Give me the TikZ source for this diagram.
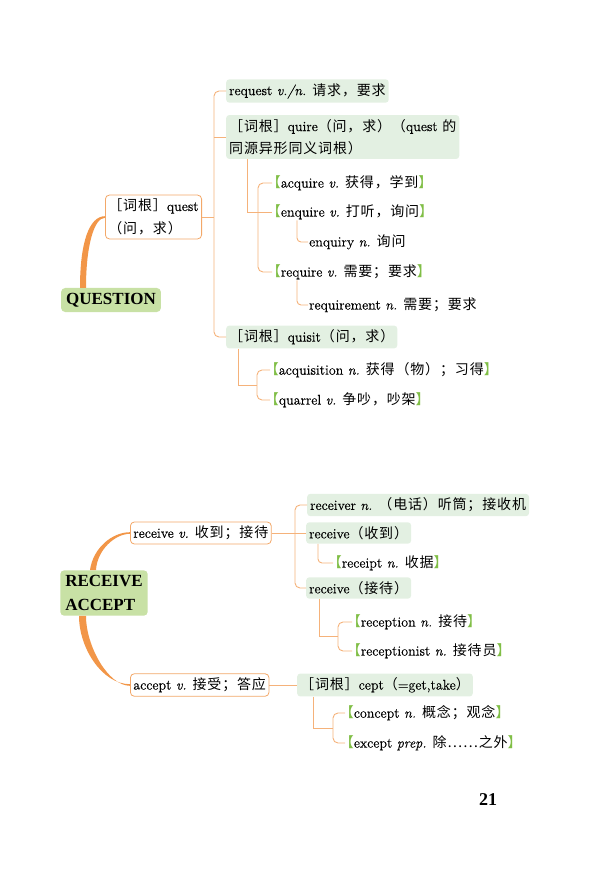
\documentclass[tikz,border=0pt]{standalone}
\usepackage{fontspec}
\setmainfont{Latin Modern Roman}[FakeBold=0.3]
\newfontfamily\zhfont[LetterSpace=6]{Noto Sans CJK SC}
\newfontfamily\headfont{Liberation Serif}
\newcommand{\zh}[1]{{\zhfont #1}}
\usetikzlibrary{calc}
\definecolor{linkorange}{RGB}{245,178,122}
\definecolor{boldorange}{RGB}{242,150,72}
\definecolor{boxorange}{RGB}{243,168,105}
\definecolor{rootgreen}{RGB}{200,225,165}
\definecolor{leafgreen}{RGB}{227,240,226}
\definecolor{brkgreen}{RGB}{128,190,70}
\newcommand{\lbk}{{\color{brkgreen}\kern-0.45em\zh{【}}}
\newcommand{\rbk}{{\color{brkgreen}\zh{】}}}

\begin{document}
\begin{tikzpicture}[x=1pt, y=-1pt, font=\fontsize{14}{22.5}\selectfont,
    link/.style={draw=linkorange, line width=0.9pt},
    thicklink/.style={fill=boldorange},
    root/.style={fill=rootgreen, rounded corners=4pt, inner xsep=5pt, inner ysep=5pt, align=left,
      font=\headfont\fontsize{17}{24}\selectfont\bfseries},
    branch/.style={draw=boxorange, line width=0.8pt, fill=white, rounded corners=4pt,
      inner xsep=3pt, inner ysep=4pt, align=left, anchor=west},
    leaf/.style={fill=leafgreen, rounded corners=3pt, inner xsep=3pt, inner ysep=4pt, align=left, anchor=west},
    item/.style={inner sep=1pt, anchor=west}]
    \useasboundingbox (0,0) rectangle (591,874);

    % QUESTION 一组
    \node[root] (question) at (111,300) {QUESTION};
    \node[branch] (quest) at (105,217) {\zh{［词根］}quest\\\zh{（问，求）}};
    \node[leaf] (request) at (226,91) {request \textit{v./n.} \zh{请求，要求}};
    \node[leaf] (quire) at (226,137) {\zh{［词根］}quire\zh{（问，求）（}quest \zh{的}\\\zh{同源异形同义词根）}};
    \node[item] (acquire) at (272,183) {\lbk acquire \textit{v.} \zh{获得，学到}\rbk};
    \node[item] (enquire) at (272,212) {\lbk enquire \textit{v.} \zh{打听，询问}\rbk};
    \node[item] (enquiry) at (308,242) {enquiry \textit{n.} \zh{询问}};
    \node[item] (require) at (272,272) {\lbk require \textit{v.} \zh{需要；要求}\rbk};
    \node[item] (requirement) at (308,305) {requirement \textit{n.} \zh{需要；要求}};
    \node[leaf] (quisit) at (226,337) {\zh{［词根］}quisit\zh{（问，求）}};
    \node[item] (acquisition) at (270,370) {\lbk acquisition \textit{n.} \zh{获得（物）；习得}\rbk};
    \node[item] (quarrel) at (270,400) {\lbk quarrel \textit{v.} \zh{争吵，吵架}\rbk};

    \fill[thicklink] ([xshift=-31pt]question.north) .. controls +(0,-45) and +(-16,0) .. ([yshift=0.8pt]quest.west)
        -- ([yshift=-0.8pt]quest.west) .. controls +(-11,0) and +(0,-42) .. ([xshift=-25pt]question.north) -- cycle;
    \draw[link] (quest.east) -- (quest.east -| {$(request.west)+(-12,0)$});
    \draw[link, rounded corners=5pt] (request.west) -- ++(-12,0) |- (quisit.west);
    \draw[link] (quire.west) -- ++(-12,0);
    \draw[link] ([xshift=21pt]quire.south west) |- (enquire.west);
    \draw[link, rounded corners=5pt] (acquire.west) -- ++(-14,0) |- (require.west);
    \draw[link, rounded corners=4pt] ([xshift=25pt]enquire.south west) |- (enquiry.west);
    \draw[link, rounded corners=4pt] ([xshift=25pt]require.south west) |- (requirement.west);
    \draw[link] ([xshift=12pt]quisit.south west) |- ($(acquisition.west)!0.5!(quarrel.west)+(-13,0)$);
    \draw[link, rounded corners=5pt] (acquisition.west) -- ++(-13,0) |- (quarrel.west);

    % RECEIVE / ACCEPT 一组
    \node[root] (recacc) at (104,593) {RECEIVE\\ACCEPT};
    \node[branch] (receive) at (130,533) {receive \textit{v.} \zh{收到；接待}};
    \node[branch] (accept) at (130,685) {accept \textit{v.} \zh{接受；答应}};
    \node[leaf] (receiver) at (307,505) {receiver \textit{n.} \zh{（电话）听筒；接收机}};
    \node[leaf] (getrecv) at (306,533) {receive\zh{（收到）}};
    \node[item] (receipt) at (333,563) {\lbk receipt \textit{n.} \zh{收据}\rbk};
    \node[leaf] (hostrecv) at (306,588) {receive\zh{（接待）}};
    \node[item] (reception) at (352,622) {\lbk reception \textit{n.} \zh{接待}\rbk};
    \node[item] (receptionist) at (352,651) {\lbk receptionist \textit{n.} \zh{接待员}\rbk};
    \node[leaf] (cept) at (297,685) {\zh{［词根］}cept\zh{（}=get,take\zh{）}};
    \node[item] (concept) at (345,713) {\lbk concept \textit{n.} \zh{概念；观念}\rbk};
    \node[item] (except) at (345,743) {\lbk except \textit{prep.} \zh{除……之外}\rbk};

    \fill[thicklink] ([xshift=-14pt]recacc.north) .. controls +(3,-22) and +(-18,0) .. ([yshift=0.8pt]receive.west)
        -- ([yshift=-0.8pt]receive.west) .. controls +(-15,0) and +(1,-20) .. ([xshift=-8pt]recacc.north) -- cycle;
    \fill[thicklink] ([xshift=-25pt]recacc.south) .. controls +(0,32) and +(-28,0) .. ([yshift=0.8pt]accept.west)
        -- ([yshift=-0.8pt]accept.west) .. controls +(-22,0) and +(0,30) .. ([xshift=-18pt]recacc.south) -- cycle;
    \draw[link] (receive.east) -- (getrecv.west);
    \draw[link, rounded corners=5pt] (receiver.west) -- ++(-12,0) |- (hostrecv.west);
    \draw[link, rounded corners=4pt] ([xshift=12pt]getrecv.south west) |- (receipt.west);
    \draw[link] ([xshift=13pt]hostrecv.south west) |- ($(reception.west)!0.5!(receptionist.west)+(-14,0)$);
    \draw[link, rounded corners=5pt] (reception.west) -- ++(-14,0) |- (receptionist.west);
    \draw[link] (accept.east) -- (cept.west);
    \draw[link] ([xshift=16pt]cept.south west) |- ($(concept.west)!0.5!(except.west)+(-12,0)$);
    \draw[link, rounded corners=5pt] (concept.west) -- ++(-12,0) |- (except.west);

    % 页码
    \node[font=\headfont\fontsize{18}{20}\selectfont\bfseries] (page) at (488,800) {21};
\end{tikzpicture}
\end{document}
